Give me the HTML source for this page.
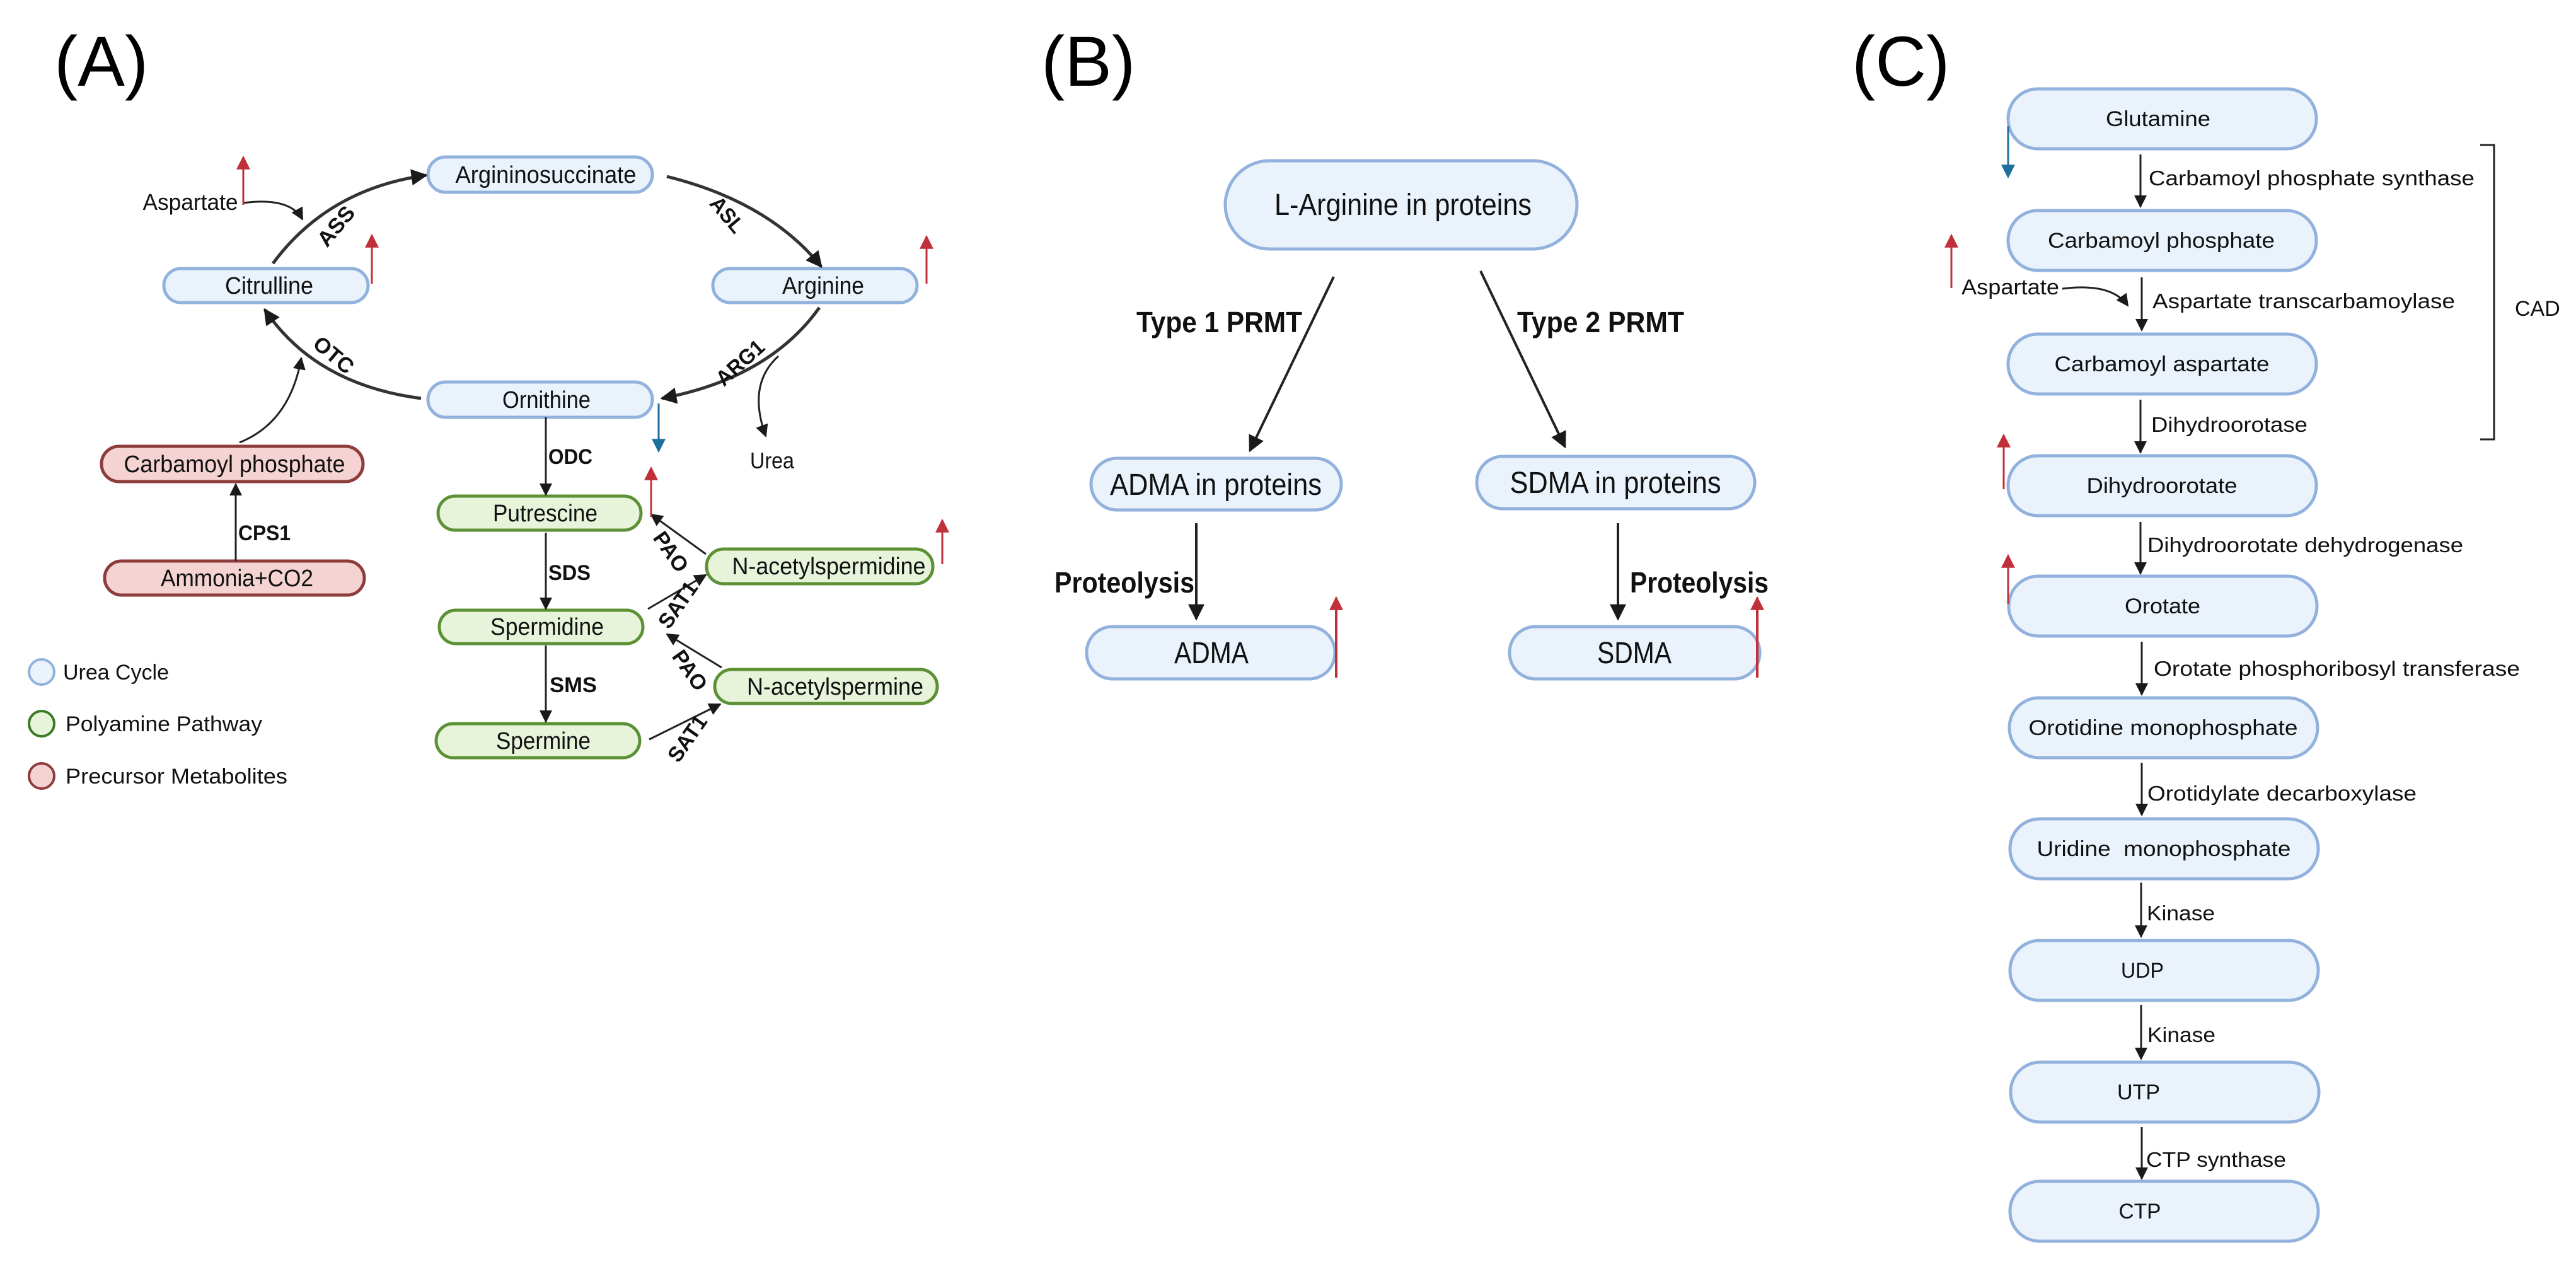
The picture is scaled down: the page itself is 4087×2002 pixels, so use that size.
<!DOCTYPE html>
<html><head><meta charset="utf-8"><style>
html,body{margin:0;padding:0;background:#fff;}
svg{display:block;}
.n{font-family:"Liberation Sans Narrow","Liberation Sans",sans-serif;}
.r{font-family:"Liberation Sans",sans-serif;}
</style></head><body>
<svg width="4087" height="2002" viewBox="0 0 4087 2002" xmlns="http://www.w3.org/2000/svg">
<defs>
<marker id="ahb" viewBox="0 0 10 10" refX="9" refY="5" markerWidth="26" markerHeight="26" markerUnits="userSpaceOnUse" orient="auto"><path d="M0,0L10,5L0,10z" fill="#1a1a1a"/></marker>
<marker id="ahs" viewBox="0 0 10 10" refX="9" refY="5" markerWidth="20" markerHeight="20" markerUnits="userSpaceOnUse" orient="auto"><path d="M0,0L10,5L0,10z" fill="#1a1a1a"/></marker>
<marker id="ahr" viewBox="0 0 10 10" refX="9" refY="5" markerWidth="22" markerHeight="22" markerUnits="userSpaceOnUse" orient="auto"><path d="M0,0L10,5L0,10z" fill="#c0303a"/></marker>
<marker id="ahu" viewBox="0 0 10 10" refX="9" refY="5" markerWidth="22" markerHeight="22" markerUnits="userSpaceOnUse" orient="auto"><path d="M0,0L10,5L0,10z" fill="#1f6f9c"/></marker>
</defs>

<text x="86" y="136" class="r" font-size="112">(A)</text>
<text x="1652" y="136" class="r" font-size="112">(B)</text>
<text x="2938" y="136" class="r" font-size="112">(C)</text>

<!-- ===== Panel A ===== -->
<g stroke-width="5">
<rect x="679" y="249" width="356" height="56" rx="28" fill="#eaf3fc" stroke="#92b2dd"/>
<rect x="260" y="426" width="324" height="54" rx="27" fill="#eaf3fc" stroke="#92b2dd"/>
<rect x="1131" y="426" width="324" height="54" rx="27" fill="#eaf3fc" stroke="#92b2dd"/>
<rect x="679" y="606" width="356" height="56" rx="28" fill="#eaf3fc" stroke="#92b2dd"/>
<rect x="161" y="708" width="415" height="56" rx="28" fill="#f5d3d3" stroke="#8e3b3b"/>
<rect x="166" y="890" width="412" height="54" rx="27" fill="#f5d3d3" stroke="#8e3b3b"/>
<rect x="695" y="787" width="322" height="54" rx="27" fill="#e7f4da" stroke="#5d9135"/>
<rect x="1121" y="871" width="359" height="55" rx="27" fill="#e7f4da" stroke="#5d9135"/>
<rect x="697" y="968" width="323" height="53" rx="26" fill="#e7f4da" stroke="#5d9135"/>
<rect x="1134" y="1062" width="353" height="54" rx="27" fill="#e7f4da" stroke="#5d9135"/>
<rect x="692" y="1148" width="323" height="54" rx="27" fill="#e7f4da" stroke="#5d9135"/>
</g>
<g class="n" font-size="38" text-anchor="middle" fill="#111" lengthAdjust="spacingAndGlyphs">
<text x="866" y="290" textLength="287" lengthAdjust="spacingAndGlyphs">Argininosuccinate</text>
<text x="427" y="466" textLength="140" lengthAdjust="spacingAndGlyphs">Citrulline</text>
<text x="1306" y="466" textLength="130" lengthAdjust="spacingAndGlyphs">Arginine</text>
<text x="867" y="647" textLength="140" lengthAdjust="spacingAndGlyphs">Ornithine</text>
<text x="372" y="749" textLength="351" lengthAdjust="spacingAndGlyphs">Carbamoyl phosphate</text>
<text x="376" y="930" textLength="242" lengthAdjust="spacingAndGlyphs">Ammonia+CO2</text>
<text x="865" y="827" textLength="166" lengthAdjust="spacingAndGlyphs">Putrescine</text>
<text x="1315" y="911" textLength="307" lengthAdjust="spacingAndGlyphs">N-acetylspermidine</text>
<text x="868" y="1007" textLength="180" lengthAdjust="spacingAndGlyphs">Spermidine</text>
<text x="1325" y="1102" textLength="280" lengthAdjust="spacingAndGlyphs">N-acetylspermine</text>
<text x="862" y="1188" textLength="150" lengthAdjust="spacingAndGlyphs">Spermine</text>
<text x="1225" y="743" font-size="36" textLength="70" lengthAdjust="spacingAndGlyphs">Urea</text>
<text x="302" y="333" font-size="36" textLength="151" lengthAdjust="spacingAndGlyphs">Aspartate</text>
</g>
<g fill="none" stroke="#333" stroke-width="5">
<path d="M433,418 Q520,300 676,278" marker-end="url(#ahb)"/>
<path d="M1058,280 Q1220,320 1303,423" marker-end="url(#ahb)"/>
<path d="M1300,488 Q1220,600 1050,632" marker-end="url(#ahb)"/>
<path d="M668,632 Q500,610 420,491" marker-end="url(#ahb)"/>
</g>
<g fill="none" stroke="#222" stroke-width="3">
<path d="M385,322 Q460,312 480,348" marker-end="url(#ahs)"/>
<path d="M380,702 Q460,670 478,568" marker-end="url(#ahs)"/>
<path d="M1235,565 Q1185,610 1215,692" marker-end="url(#ahs)"/>
<line x1="866" y1="662" x2="866" y2="785" marker-end="url(#ahs)"/>
<line x1="374" y1="890" x2="374" y2="768" marker-end="url(#ahs)"/>
<line x1="866" y1="845" x2="866" y2="966" marker-end="url(#ahs)"/>
<line x1="866" y1="1024" x2="866" y2="1145" marker-end="url(#ahs)"/>
<line x1="1120" y1="879" x2="1033" y2="816" marker-end="url(#ahs)"/>
<line x1="1028" y1="966" x2="1120" y2="912" marker-end="url(#ahs)"/>
<line x1="1145" y1="1059" x2="1058" y2="1006" marker-end="url(#ahs)"/>
<line x1="1030" y1="1173" x2="1143" y2="1117" marker-end="url(#ahs)"/>
</g>
<g stroke="#c0303a" stroke-width="3" fill="none">
<line x1="386" y1="325" x2="386" y2="249" marker-end="url(#ahr)"/>
<line x1="590" y1="450" x2="590" y2="373" marker-end="url(#ahr)"/>
<line x1="1470" y1="450" x2="1470" y2="375" marker-end="url(#ahr)"/>
<line x1="1033" y1="820" x2="1033" y2="742" marker-end="url(#ahr)"/>
<line x1="1495" y1="895" x2="1495" y2="825" marker-end="url(#ahr)"/>
</g>
<line x1="1045" y1="640" x2="1045" y2="716" stroke="#1f6f9c" stroke-width="3" marker-end="url(#ahu)"/>
<g class="n" font-size="34" font-weight="bold" fill="#111" text-anchor="middle">
<text transform="translate(542,366) rotate(-50)" textLength="72" lengthAdjust="spacingAndGlyphs">ASS</text>
<text transform="translate(1145,348) rotate(50)" textLength="64" lengthAdjust="spacingAndGlyphs">ASL</text>
<text transform="translate(1182,584) rotate(-42)" textLength="90" lengthAdjust="spacingAndGlyphs">ARG1</text>
<text transform="translate(522,572) rotate(40)" textLength="72" lengthAdjust="spacingAndGlyphs">OTC</text>
<text transform="translate(1055,882) rotate(55)" textLength="70" lengthAdjust="spacingAndGlyphs">PAO</text>
<text transform="translate(1085,966) rotate(-55)" textLength="82" lengthAdjust="spacingAndGlyphs">SAT1</text>
<text transform="translate(1085,1070) rotate(55)" textLength="70" lengthAdjust="spacingAndGlyphs">PAO</text>
<text transform="translate(1100,1178) rotate(-55)" textLength="82" lengthAdjust="spacingAndGlyphs">SAT1</text>
</g>
<g class="n" font-size="34" font-weight="bold" fill="#111">
<text x="870" y="736" textLength="70" lengthAdjust="spacingAndGlyphs">ODC</text>
<text x="378" y="857" textLength="83" lengthAdjust="spacingAndGlyphs">CPS1</text>
<text x="870" y="920" textLength="67" lengthAdjust="spacingAndGlyphs">SDS</text>
<text x="872" y="1098" textLength="75" lengthAdjust="spacingAndGlyphs">SMS</text>
</g>
<g stroke-width="4">
<ellipse cx="66" cy="1066" rx="20" ry="20" fill="#eaf3fc" stroke="#92b2dd"/>
<ellipse cx="66" cy="1148" rx="20" ry="20" fill="#e7f4da" stroke="#3d7a25"/>
<ellipse cx="66" cy="1231" rx="20" ry="20" fill="#f5d3d3" stroke="#8e3b3b"/>
</g>
<g class="n" font-size="34" fill="#111">
<text x="100" y="1078" textLength="168" lengthAdjust="spacingAndGlyphs">Urea Cycle</text>
<text x="104" y="1160" textLength="312" lengthAdjust="spacingAndGlyphs">Polyamine Pathway</text>
<text x="104" y="1243" textLength="352" lengthAdjust="spacingAndGlyphs">Precursor Metabolites</text>
</g>

<!-- ===== Panel B ===== -->
<g stroke-width="5" fill="#eaf3fc" stroke="#92b2dd">
<rect x="1944" y="255" width="558" height="140" rx="70"/>
<rect x="1731" y="727" width="397" height="82" rx="41"/>
<rect x="2343" y="724" width="441" height="83" rx="41"/>
<rect x="1724" y="994" width="394" height="83" rx="41"/>
<rect x="2395" y="994" width="397" height="83" rx="41"/>
</g>
<g class="n" font-size="48" fill="#111" text-anchor="middle">
<text x="2226" y="341" textLength="408" lengthAdjust="spacingAndGlyphs">L-Arginine in proteins</text>
<text x="1929" y="785" textLength="336" lengthAdjust="spacingAndGlyphs">ADMA in proteins</text>
<text x="2563" y="782" textLength="335" lengthAdjust="spacingAndGlyphs">SDMA in proteins</text>
<text x="1922" y="1052" textLength="118" lengthAdjust="spacingAndGlyphs">ADMA</text>
<text x="2593" y="1052" textLength="118" lengthAdjust="spacingAndGlyphs">SDMA</text>
</g>
<g class="n" font-size="46" font-weight="bold" fill="#111">
<text x="1803" y="527" textLength="263" lengthAdjust="spacingAndGlyphs">Type 1 PRMT</text>
<text x="2407" y="527" textLength="265" lengthAdjust="spacingAndGlyphs">Type 2 PRMT</text>
<text x="1673" y="940" textLength="222" lengthAdjust="spacingAndGlyphs">Proteolysis</text>
<text x="2586" y="940" textLength="220" lengthAdjust="spacingAndGlyphs">Proteolysis</text>
</g>
<g stroke="#222" stroke-width="4" fill="none">
<line x1="2116" y1="439" x2="1983" y2="715" marker-end="url(#ahb)"/>
<line x1="2349" y1="430" x2="2483" y2="709" marker-end="url(#ahb)"/>
<line x1="1898" y1="830" x2="1898" y2="982" marker-end="url(#ahb)"/>
<line x1="2567" y1="830" x2="2567" y2="982" marker-end="url(#ahb)"/>
</g>
<g stroke="#c0303a" stroke-width="4" fill="none">
<line x1="2120" y1="1075" x2="2120" y2="948" marker-end="url(#ahr)"/>
<line x1="2788" y1="1075" x2="2788" y2="948" marker-end="url(#ahr)"/>
</g>

<!-- ===== Panel C ===== -->
<g stroke-width="5" fill="#eaf3fc" stroke="#92b2dd">
<rect x="3186" y="141" width="489" height="95" rx="47"/>
<rect x="3186" y="334" width="489" height="95" rx="47"/>
<rect x="3186" y="530" width="489" height="95" rx="47"/>
<rect x="3186" y="723" width="489" height="95" rx="47"/>
<rect x="3187" y="914" width="489" height="95" rx="47"/>
<rect x="3188" y="1107" width="489" height="95" rx="47"/>
<rect x="3189" y="1299" width="489" height="95" rx="47"/>
<rect x="3189" y="1492" width="489" height="95" rx="47"/>
<rect x="3190" y="1685" width="489" height="95" rx="47"/>
<rect x="3189" y="1874" width="489" height="95" rx="47"/>
</g>
<g class="r" font-size="34" fill="#111" text-anchor="middle">
<text x="3424" y="200" textLength="166" lengthAdjust="spacingAndGlyphs">Glutamine</text>
<text x="3429" y="393" textLength="360" lengthAdjust="spacingAndGlyphs">Carbamoyl phosphate</text>
<text x="3430" y="589" textLength="341" lengthAdjust="spacingAndGlyphs">Carbamoyl aspartate</text>
<text x="3430" y="782" textLength="239" lengthAdjust="spacingAndGlyphs">Dihydroorotate</text>
<text x="3431" y="973" textLength="120" lengthAdjust="spacingAndGlyphs">Orotate</text>
<text x="3432" y="1166" textLength="427" lengthAdjust="spacingAndGlyphs">Orotidine monophosphate</text>
<text x="3433" y="1358" textLength="403" lengthAdjust="spacingAndGlyphs" xml:space="preserve">Uridine  monophosphate</text>
<text x="3399" y="1551" textLength="68" lengthAdjust="spacingAndGlyphs">UDP</text>
<text x="3393" y="1744" textLength="68" lengthAdjust="spacingAndGlyphs">UTP</text>
<text x="3395" y="1933" textLength="67" lengthAdjust="spacingAndGlyphs">CTP</text>
</g>
<g stroke="#222" stroke-width="3" fill="none">
<line x1="3396" y1="245" x2="3396" y2="328" marker-end="url(#ahs)"/>
<line x1="3398" y1="440" x2="3398" y2="524" marker-end="url(#ahs)"/>
<line x1="3396" y1="634" x2="3396" y2="718" marker-end="url(#ahs)"/>
<line x1="3396" y1="828" x2="3396" y2="910" marker-end="url(#ahs)"/>
<line x1="3398" y1="1018" x2="3398" y2="1102" marker-end="url(#ahs)"/>
<line x1="3398" y1="1210" x2="3398" y2="1293" marker-end="url(#ahs)"/>
<line x1="3397" y1="1400" x2="3397" y2="1486" marker-end="url(#ahs)"/>
<line x1="3397" y1="1594" x2="3397" y2="1680" marker-end="url(#ahs)"/>
<line x1="3398" y1="1788" x2="3398" y2="1870" marker-end="url(#ahs)"/>
<path d="M3272,458 Q3350,448 3376,485" marker-end="url(#ahs)"/>
<polyline points="3935,230 3957,230 3957,697 3935,697" stroke-width="3"/>
</g>
<g class="r" font-size="33" fill="#111">
<text x="3409" y="294" textLength="517" lengthAdjust="spacingAndGlyphs">Carbamoyl phosphate synthase</text>
<text x="3415" y="489" textLength="480" lengthAdjust="spacingAndGlyphs">Aspartate transcarbamoylase</text>
<text x="3413" y="685" textLength="248" lengthAdjust="spacingAndGlyphs">Dihydroorotase</text>
<text x="3407" y="876" textLength="501" lengthAdjust="spacingAndGlyphs">Dihydroorotate dehydrogenase</text>
<text x="3417" y="1072" textLength="581" lengthAdjust="spacingAndGlyphs">Orotate phosphoribosyl transferase</text>
<text x="3407" y="1270" textLength="427" lengthAdjust="spacingAndGlyphs">Orotidylate decarboxylase</text>
<text x="3406" y="1460" textLength="108" lengthAdjust="spacingAndGlyphs">Kinase</text>
<text x="3407" y="1653" textLength="108" lengthAdjust="spacingAndGlyphs">Kinase</text>
<text x="3405" y="1851" textLength="222" lengthAdjust="spacingAndGlyphs">CTP synthase</text>
<text x="3112" y="467" font-size="34" textLength="155" lengthAdjust="spacingAndGlyphs">Aspartate</text>
<text x="3990" y="501" font-size="34">CAD</text>
</g>
<line x1="3186" y1="200" x2="3186" y2="281" stroke="#1f6f9c" stroke-width="3" marker-end="url(#ahu)"/>
<g stroke="#c0303a" stroke-width="3" fill="none">
<line x1="3096" y1="457" x2="3096" y2="373" marker-end="url(#ahr)"/>
<line x1="3179" y1="776" x2="3179" y2="690" marker-end="url(#ahr)"/>
<line x1="3186" y1="958" x2="3186" y2="881" marker-end="url(#ahr)"/>
</g>
</svg>
</body></html>
